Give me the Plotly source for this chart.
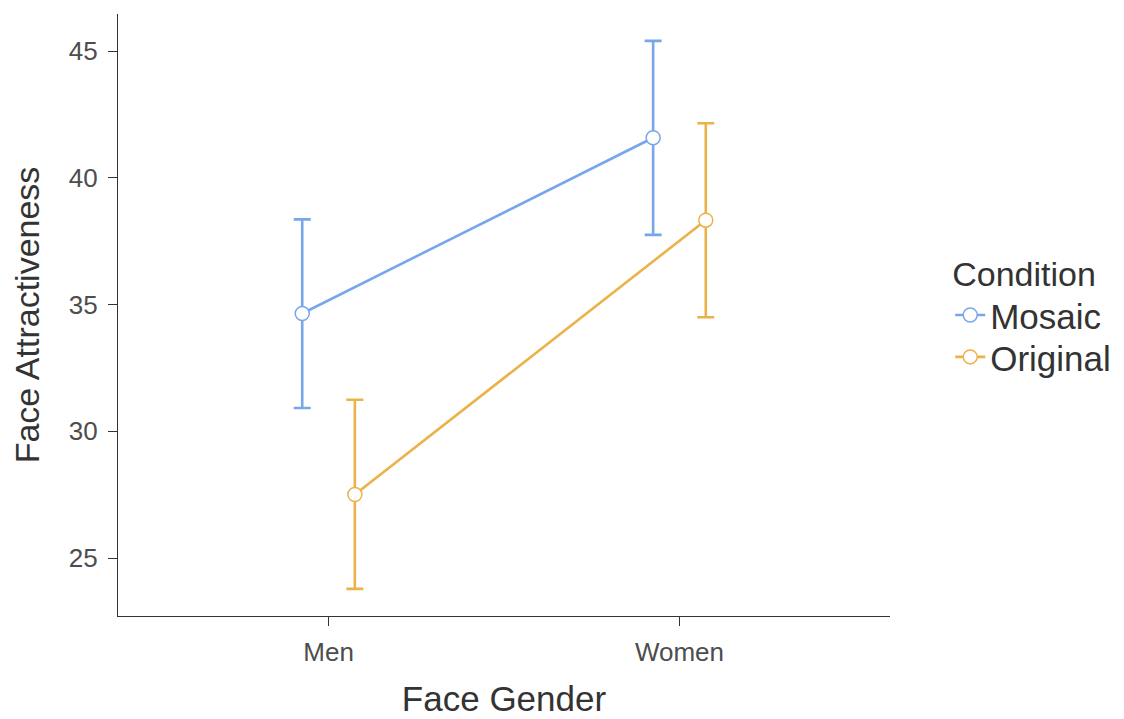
import plotly.graph_objects as go

categories = ["Men", "Women"]
conditions = ["Mosaic", "Original"]
mosaic_mean = [34.65, 41.58]
mosaic_upper = [38.36, 45.40]
mosaic_lower = [30.92, 37.75]
original_mean = [27.51, 38.33]
original_upper = [31.25, 42.15]
original_lower = [23.79, 34.50]
y_ticks = [25, 30, 35, 40, 45]

colors = {"Mosaic": "#78A6EB", "Original": "#EBB24A"}
dodge = {"Mosaic": -0.075, "Original": 0.075}
legend_ref = {"Mosaic": "legend", "Original": "legend2"}
series = {
    "Mosaic": (mosaic_mean, mosaic_upper, mosaic_lower),
    "Original": (original_mean, original_upper, original_lower),
}

fig = go.Figure()
for cond in conditions:
    mean, up, lo = series[cond]
    xs = [i + 1 + dodge[cond] for i in range(len(categories))]
    fig.add_trace(go.Scatter(
        x=xs, y=mean, name=cond, mode="lines+markers", legend=legend_ref[cond],
        line=dict(color=colors[cond], width=2.6),
        marker=dict(size=14, color="white", line=dict(color=colors[cond], width=1.5)),
        error_y=dict(type="data", symmetric=False,
                     array=[u - m for u, m in zip(up, mean)],
                     arrayminus=[m - l for m, l in zip(mean, lo)],
                     color=colors[cond], thickness=2.6, width=8.5),
    ))

fig.update_layout(
    width=1124, height=719,
    margin=dict(l=110, r=242, t=6, b=111),
    paper_bgcolor="white", plot_bgcolor="white",
    font=dict(family="Liberation Sans, Arial, sans-serif", color="#333333"),
    showlegend=True,
    legend=dict(
        title=dict(text="Condition", font=dict(size=34, color="#333333")),
        font=dict(size=35, color="#333333"),
        bgcolor="rgba(0,0,0,0)",
        x=1.078, xanchor="left", y=0.622, yanchor="top",
        itemwidth=30, tracegroupgap=0,
    ),
    legend2=dict(
        font=dict(size=35, color="#333333"),
        bgcolor="rgba(0,0,0,0)",
        x=1.078, xanchor="left", y=0.430, yanchor="middle",
        itemwidth=30, tracegroupgap=0,
    ),
)
fig.update_xaxes(
    range=[0.4, 2.6], tickvals=[1, 2], ticktext=categories,
    showline=True, linecolor="#333333", linewidth=1.3,
    ticks="outside", ticklen=9, tickwidth=1.3, tickcolor="#333333",
    ticklabelstandoff=4,
    showgrid=False, zeroline=False,
    tickfont=dict(size=26, color="#4D4D4D"),
    title=dict(text="Face Gender", font=dict(size=35, color="#333333"), standoff=20),
)
fig.update_yaxes(
    range=[22.72, 46.46], tickvals=y_ticks, ticktext=[str(t) for t in y_ticks],
    showline=True, linecolor="#333333", linewidth=1.3,
    ticks="outside", ticklen=9, tickwidth=1.3, tickcolor="#333333",
    ticklabelstandoff=5,
    showgrid=False, zeroline=False,
    tickfont=dict(size=26, color="#4D4D4D"),
    title=dict(text="Face Attractiveness", font=dict(size=34, color="#333333"), standoff=20),
)

fig.write_html("out.html")
